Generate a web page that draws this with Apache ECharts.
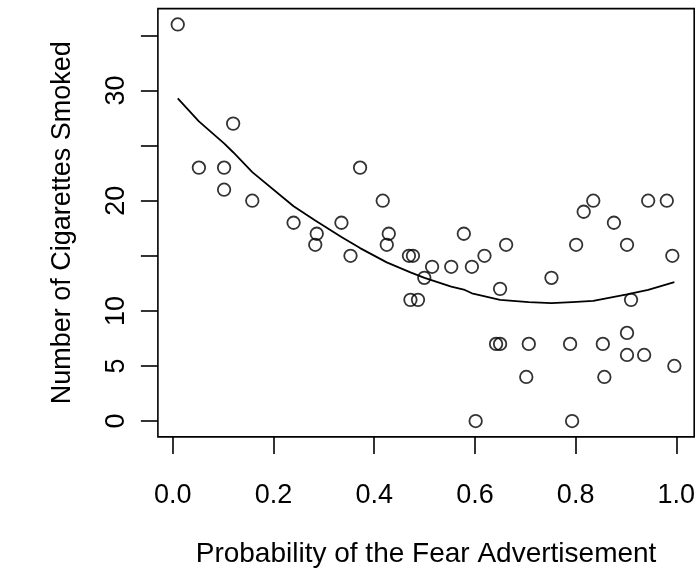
<!DOCTYPE html>
<html>
<head>
<meta charset="utf-8">
<script src="https://cdn.jsdelivr.net/npm/echarts@6/dist/echarts.min.js"></script>
<style>
  html, body { margin: 0; padding: 0; background: #fff; }
  #chart { width: 700px; height: 585px; }
</style>
</head>
<body>
<div id="chart"></div>
<script>
// Probability of seeing the fear advertisement vs. cigarettes smoked
const probability = [
  0.010, 0.052, 0.102, 0.102, 0.120, 0.158, 0.240, 0.286, 0.283, 0.335,
  0.353, 0.372, 0.417, 0.429, 0.425, 0.469, 0.477, 0.472, 0.487, 0.4995,
  0.515, 0.553, 0.578, 0.594, 0.6015, 0.619, 0.642, 0.650, 0.650, 0.662,
  0.702, 0.707, 0.752, 0.789, 0.793, 0.801, 0.816, 0.835, 0.854, 0.857,
  0.876, 0.902, 0.902, 0.902, 0.910, 0.936, 0.944, 0.981, 0.992, 0.996
];
const cigarettes = [
  36, 23, 23, 21, 27, 20, 18, 17, 16, 18,
  15, 23, 20, 17, 16, 15, 15, 11, 11, 13,
  14, 14, 17, 14, 0, 15, 7, 7, 12, 16,
  4, 7, 13, 7, 0, 16, 19, 20, 7, 4,
  18, 16, 8, 6, 11, 6, 20, 20, 15, 5
];

// Smoothed (lowess) trend through the cloud
const smoothX = [
  0.010, 0.052, 0.102, 0.120, 0.158, 0.240, 0.283, 0.335, 0.372, 0.425,
  0.472, 0.500, 0.553, 0.580, 0.594, 0.650, 0.707, 0.752, 0.793, 0.835,
  0.902, 0.944, 0.996
];
const smoothY = [
  29.3, 27.2, 25.2, 24.4, 22.6, 19.5, 18.2, 16.7, 15.7, 14.4,
  13.5, 13.0, 12.2, 11.9, 11.6, 11.0, 10.8, 10.7, 10.8, 10.9,
  11.5, 11.9, 12.6
];

const xTicks = [0, 0.2, 0.4, 0.6, 0.8, 1.0];
const yTicks = [0, 5, 10, 15, 20, 25, 30, 35];
const yTickLabels = [0, 5, 10, 20, 30];

const points = probability.map((p, i) => [p, cigarettes[i]]);
const trend = smoothX.map((x, i) => [x, smoothY[i]]);

const FONT = 'Liberation Sans, Arial, Helvetica, sans-serif';
const INK = '#000';

const chart = echarts.init(document.getElementById('chart'), null, { renderer: 'canvas' });
chart.setOption({
  backgroundColor: '#fff',
  animation: false,
  grid: {
    left: 157.9, right: 5.8, top: 8.6, bottom: 148.1,
    show: true, borderColor: INK, borderWidth: 1.6, backgroundColor: 'transparent'
  },
  xAxis: {
    type: 'value',
    min: -0.0294, max: 1.0354,
    name: 'Probability of the Fear Advertisement',
    nameLocation: 'middle',
    nameGap: 103,
    nameTextStyle: { fontFamily: FONT, fontSize: 28, color: INK },
    splitLine: { show: false },
    axisLine: { show: false, onZero: false },
    axisTick: { show: true, inside: false, customValues: xTicks, length: 17, lineStyle: { color: INK, width: 1.6 } },
    axisLabel: {
      customValues: xTicks, margin: 45,
      fontFamily: FONT, fontSize: 27, color: INK,
      formatter: v => v.toFixed(1)
    }
  },
  yAxis: {
    type: 'value',
    min: -1.44, max: 37.44,
    name: 'Number of Cigarettes Smoked',
    nameLocation: 'middle',
    nameGap: 82,
    nameRotate: 90,
    nameTextStyle: { fontFamily: FONT, fontSize: 27, color: INK },
    splitLine: { show: false },
    axisLine: { show: false, onZero: false },
    axisTick: { show: true, inside: false, customValues: yTicks, length: 17, lineStyle: { color: INK, width: 1.6 } },
    axisLabel: {
      customValues: yTickLabels, margin: 28, rotate: 90,
      fontFamily: FONT, fontSize: 27, color: INK
    }
  },
  series: [
    {
      type: 'scatter',
      data: points,
      symbol: 'circle',
      symbolSize: 12.5,
      itemStyle: { color: 'transparent', borderColor: INK, borderWidth: 1.8 }
    },
    {
      type: 'line',
      data: trend,
      showSymbol: false,
      smooth: false,
      lineStyle: { color: INK, width: 1.8 }
    }
  ]
});
</script>
</body>
</html>
